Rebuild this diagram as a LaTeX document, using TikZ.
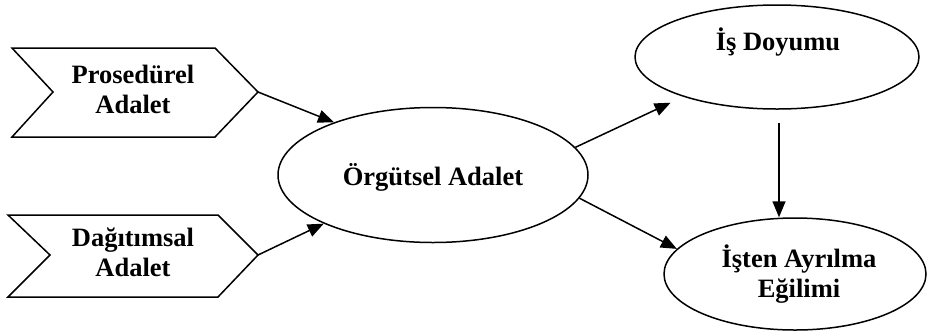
\documentclass[tikz,border=0pt]{standalone}
\usepackage{fontspec}
\setmainfont{Liberation Serif}
\usetikzlibrary{shapes.geometric,arrows.meta}
\begin{document}
\begin{tikzpicture}[x=1pt,y=-1pt,
  every node/.style={font=\bfseries\fontsize{26.5}{30}\selectfont, align=center},
  shapeline/.style={draw=black, line width=1.5pt, line join=miter},
  oval/.style={ellipse, draw=black, line width=1.5pt, inner sep=0pt},
  arr/.style={line width=1.5pt, -{Triangle[length=16pt,width=13pt]}}]
\useasboundingbox (0,0) rectangle (928,333);
% chevrons
\draw[shapeline] (12,48) -- (215,48) -- (258,92) coordinate (p1tip) -- (215,137) -- (12,137) -- (53,92) -- cycle;
\node (p1) at (133,89) {Prosedürel\\Adalet};
\draw[shapeline] (8,215) -- (218,215) -- (258,255) coordinate (p2tip) -- (218,297) -- (8,297) -- (50,255) -- cycle;
\node (p2) at (133,252) {Dağıtımsal\\Adalet};
% ellipses
\node[oval, minimum width=310pt, minimum height=135pt] (o) at (433,175) {};
\node (ot) at (433,177) {Örgütsel Adalet};
\node[oval, minimum width=284pt, minimum height=104pt] (d) at (777,57) {};
\node (dt) at (778,42) {İş Doyumu};
\node[oval, minimum width=262pt, minimum height=112pt] (i) at (795,274) {};
\node (it) at (799,274) {İşten Ayrılma\\Eğilimi};
% connectors
\draw[arr] (p1tip) -- (o.152);
\draw[arr] (p2tip) -- (o.204.5);
\draw[arr, shorten >=14pt] (o.11.9) -- (d.203.7);
\draw[arr] (o.-9) -- (i.168.4);
\coordinate (vs) at ([shift={(2pt,-13pt)}]d.south);
\draw[arr] (vs) -- (vs |- i.north);
\end{tikzpicture}
\end{document}
